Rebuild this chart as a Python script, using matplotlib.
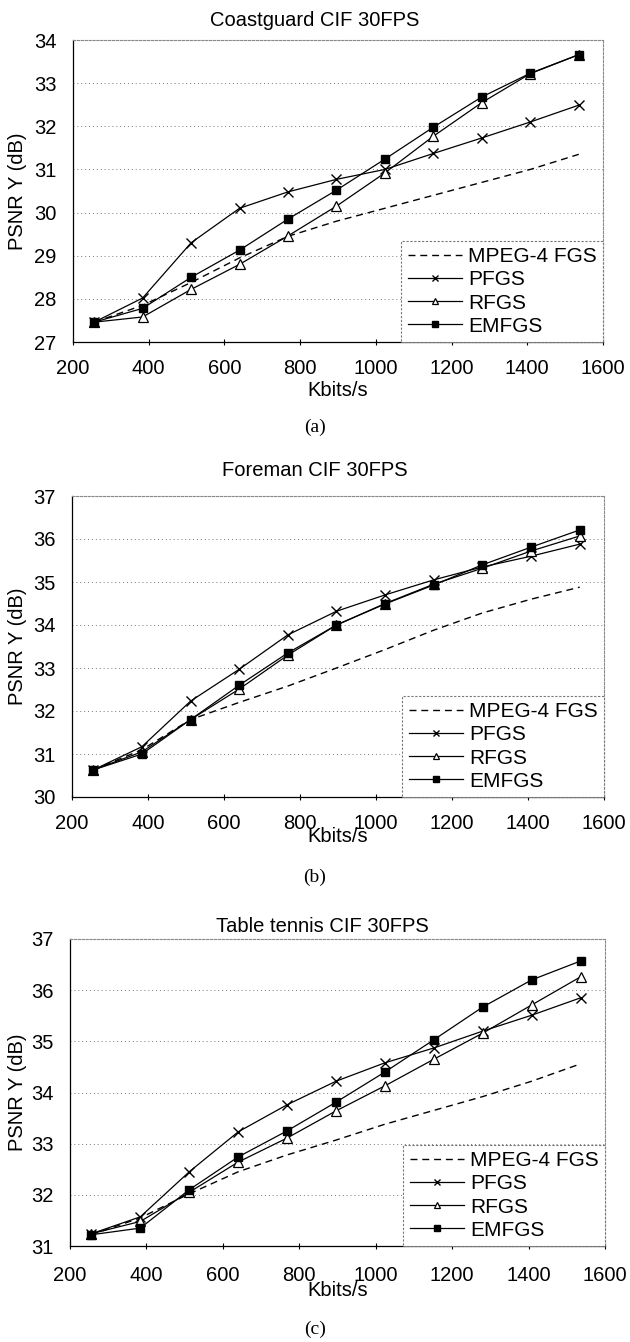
import matplotlib
matplotlib.use("Agg")
import matplotlib.pyplot as plt

plt.rcParams['font.family'] = ['Liberation Sans', 'DejaVu Sans']

# ---------------- data ----------------
kbits = [256, 384, 512, 640, 768, 896, 1024, 1152, 1280, 1408, 1536]
series_names = ["MPEG-4 FGS", "PFGS", "RFGS", "EMFGS"]

coast_mpeg4 = [27.46, 27.85, 28.38, 28.95, 29.45, 29.80, 30.10, 30.40, 30.70, 31.00, 31.35]
coast_pfgs = [27.46, 28.02, 29.30, 30.10, 30.48, 30.77, 31.00, 31.37, 31.73, 32.10, 32.49]
coast_rfgs = [27.46, 27.58, 28.22, 28.80, 29.46, 30.15, 30.92, 31.77, 32.55, 33.22, 33.66]
coast_emfgs = [27.46, 27.78, 28.50, 29.13, 29.85, 30.52, 31.24, 31.98, 32.68, 33.23, 33.66]

fore_mpeg4 = [30.63, 31.10, 31.80, 32.20, 32.58, 33.00, 33.43, 33.88, 34.28, 34.60, 34.88]
fore_pfgs = [30.63, 31.17, 32.23, 32.97, 33.77, 34.32, 34.70, 35.05, 35.35, 35.60, 35.88]
fore_rfgs = [30.63, 31.05, 31.80, 32.51, 33.30, 34.00, 34.50, 34.95, 35.32, 35.72, 36.07]
fore_emfgs = [30.63, 31.00, 31.80, 32.60, 33.35, 34.00, 34.49, 34.93, 35.40, 35.81, 36.21]

tt_mpeg4 = [31.22, 31.55, 32.02, 32.45, 32.78, 33.07, 33.38, 33.65, 33.92, 34.22, 34.56]
tt_pfgs = [31.24, 31.57, 32.45, 33.23, 33.76, 34.22, 34.58, 34.87, 35.20, 35.51, 35.85]
tt_rfgs = [31.24, 31.48, 32.05, 32.64, 33.11, 33.64, 34.13, 34.65, 35.16, 35.71, 36.26]
tt_emfgs = [31.22, 31.35, 32.10, 32.74, 33.25, 33.81, 34.40, 35.03, 35.67, 36.20, 36.57]

titles = ["Coastguard CIF 30FPS", "Foreman CIF 30FPS", "Table tennis CIF 30FPS"]
captions = ["(a)", "(b)", "(c)"]
ylims = [(27, 34), (30, 37), (31, 37)]
xticks = [200, 400, 600, 800, 1000, 1200, 1400, 1600]

panels = [
    (coast_mpeg4, coast_pfgs, coast_rfgs, coast_emfgs),
    (fore_mpeg4, fore_pfgs, fore_rfgs, fore_emfgs),
    (tt_mpeg4, tt_pfgs, tt_rfgs, tt_emfgs),
]

# ---------------- layout (pixels) ----------------
W, H = 630, 1342
fig = plt.figure(figsize=(W / 100, H / 100), dpi=100)

boxes = [(73, 603, 40, 342), (72, 604, 496, 797), (70, 605, 939, 1246)]
title_y = [20, 471, 927]
title_x = [315, 315, 322]
xlabel_y = [390, 837, 1291]
caption_y = [427, 877, 1329]
xtick_pad = [10, 10, 12]

for i in range(3):
    l, r, t, b = boxes[i]
    ax = fig.add_axes([l / W, 1 - b / H, (r - l) / W, (b - t) / H])
    mp, pf, rf, em = panels[i]
    ax.plot(kbits, mp, color='black', lw=1.0, ls=(0, (5, 3.5)), label=series_names[0])
    ax.plot(kbits, pf, color='black', lw=0.9, marker='x', ms=6.5, mew=1.0,
            label=series_names[1])
    ax.plot(kbits, rf, color='black', lw=0.9, marker='^', ms=6.5, mfc='white', mew=0.9,
            label=series_names[2])
    ax.plot(kbits, em, color='black', lw=0.9, marker='s', ms=6, mfc='black',
            label=series_names[3])

    ax.set_xlim(200, 1600)
    ax.set_ylim(*ylims[i])
    ax.set_xticks(xticks)
    ax.set_yticks(range(ylims[i][0], ylims[i][1] + 1))
    ax.tick_params(axis='x', direction='inout', length=5, width=0.8, labelsize=14.5,
                   pad=xtick_pad[i])
    ax.tick_params(axis='y', length=0, labelsize=14.5, pad=12)
    ax.yaxis.grid(True, color='#777777', lw=0.7, ls=(0, (1, 3)))
    ax.set_axisbelow(True)
    for s in ['top', 'right']:
        ax.spines[s].set_color('#888888')
        ax.spines[s].set_linestyle((0, (2, 1.5)))
        ax.spines[s].set_linewidth(0.8)
    for s in ['left', 'bottom']:
        ax.spines[s].set_color('black')
        ax.spines[s].set_linewidth(0.9)

    leg = ax.legend(loc='lower right', borderaxespad=0, fontsize=15, frameon=True,
                    fancybox=False, handlelength=2.6, handletextpad=0.3,
                    labelspacing=0.2, borderpad=0.3, markerscale=0.75)
    fr = leg.get_frame()
    fr.set_edgecolor('#777777')
    fr.set_linewidth(0.8)
    fr.set_linestyle((0, (2, 1.5)))
    fr.set_facecolor('white')
    fr.set_alpha(1)

    fig.text(18 / W, 1 - ((t + b) / 2) / H, "PSNR Y (dB)", rotation=90,
             ha='center', va='center', fontsize=14.5)
    fig.text(title_x[i] / W, 1 - title_y[i] / H, titles[i], ha='center', va='center',
             fontsize=14.5)
    fig.text(((l + r) / 2) / W, 1 - xlabel_y[i] / H, "Kbits/s", ha='center',
             va='center', fontsize=14.5)
    fig.text(315 / W, 1 - caption_y[i] / H, captions[i], ha='center', va='center',
             fontsize=14, family='Liberation Serif')

fig.savefig("out.png", dpi=100, facecolor='white')
